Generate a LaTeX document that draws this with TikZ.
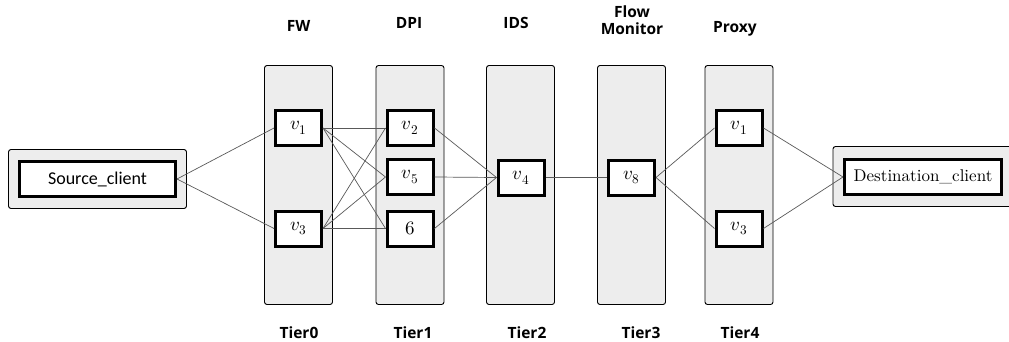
\documentclass[tikz,border=0pt]{standalone}
\usepackage{fontspec}
\usepackage{unicode-math}
\setmathfont{Latin Modern Math}
\newfontfamily\labfont{Open Sans}[BoldFont={* Bold}]
\newfontfamily\srcfont{Carlito}
\newfontfamily\dstfont{lmroman10-regular}[Extension=.otf]
\begin{document}
\begin{tikzpicture}[x=1pt,y=-1pt,
  tiercol/.style={draw=black,line width=0.9pt,fill=black!7,rounded corners=2.5pt,
    minimum width=68pt,minimum height=239pt,inner sep=0pt,outer sep=0pt},
  vbox/.style={draw=black,line width=3pt,fill=white,minimum width=46pt,minimum height=35pt,
    inner sep=0pt,font=\fontsize{19}{19}\selectfont},
  clientouter/.style={draw=black,line width=0.9pt,fill=black!7,rounded corners=2.5pt,
    inner sep=0pt,outer sep=0pt},
  clientbox/.style={draw=black,line width=3pt,fill=white,minimum height=35pt,
    inner sep=0pt},
  lab/.style={font=\labfont\bfseries\fontsize{15.5}{17.5}\selectfont,align=center,inner sep=0pt},
  link/.style={draw=black!65,line width=0.7pt}]
\useasboundingbox (0,0) rectangle (1009,342);

% service columns
\node[tiercol] (c0) at (298.5,185) {};
\node[tiercol] (c1) at (410,185) {};
\node[tiercol] (c2) at (520.5,185) {};
\node[tiercol] (c3) at (631.5,185) {};
\node[tiercol] (c4) at (739,185) {};

% client frames
\node[clientouter,minimum width=178pt,minimum height=59pt] (srcframe) at (97.5,179) {};
\node[clientouter,minimum width=180pt,minimum height=60pt] (dstframe) at (923,176.5) {};

% column titles
\node[lab] (tFW) at (298.5,26) {FW};
\node[lab] (tDPI) at (409,22.5) {DPI};
\node[lab] (tIDS) at (516,23) {IDS};
\node[lab] (tFM) at (632,20) {Flow\\Monitor};
\node[lab] (tPX) at (735,28.5) {Proxy};

% tier labels
\node[lab] (tier0) at (299,333) {Tier0};
\node[lab] (tier1) at (413,333) {Tier1};
\node[lab] (tier2) at (527,333) {Tier2};
\node[lab] (tier3) at (641,333) {Tier3};
\node[lab] (tier4) at (740,333) {Tier4};

% clients
\node[clientbox,minimum width=156pt,font=\srcfont\fontsize{18}{18}\selectfont] (src) at (97.5,179) {Source\_client};
\node[clientbox,minimum width=157pt,font=\dstfont\fontsize{17}{17}\selectfont] (dst) at (923,177) {Destination\_client};

% function instances
\node[vbox] (fa) at (298.5,128) {$v_1$};
\node[vbox] (fb) at (298.5,228.5) {$v_3$};
\node[vbox] (da) at (410,128) {$v_2$};
\node[vbox] (db) at (410,177) {$v_5$};
\node[vbox] (dc) at (410,228.5) {$6$};
\node[vbox] (ia) at (521,177.5) {$v_4$};
\node[vbox] (ma) at (631.5,177.5) {$v_8$};
\node[vbox] (pa) at (739,128) {$v_1$};
\node[vbox] (pb) at (739,228.5) {$v_3$};

% links
\draw[link] (src.east) -- (fa.west);
\draw[link] (src.east) -- (fb.west);
\foreach \a in {fa,fb}{
  \foreach \b in {da,db,dc}{
    \draw[link] (\a.east) -- (\b.west);
  }
}
\foreach \b in {da,db,dc}{
  \draw[link] (\b.east) -- (ia.west);
}
\draw[link] (ia.east) -- (ma.west);
\draw[link] (ma.east) -- (pa.west);
\draw[link] (ma.east) -- (pb.west);
\draw[link] (pa.east) -- (dst.west);
\draw[link] (pb.east) -- (dst.west);
\end{tikzpicture}
\end{document}
